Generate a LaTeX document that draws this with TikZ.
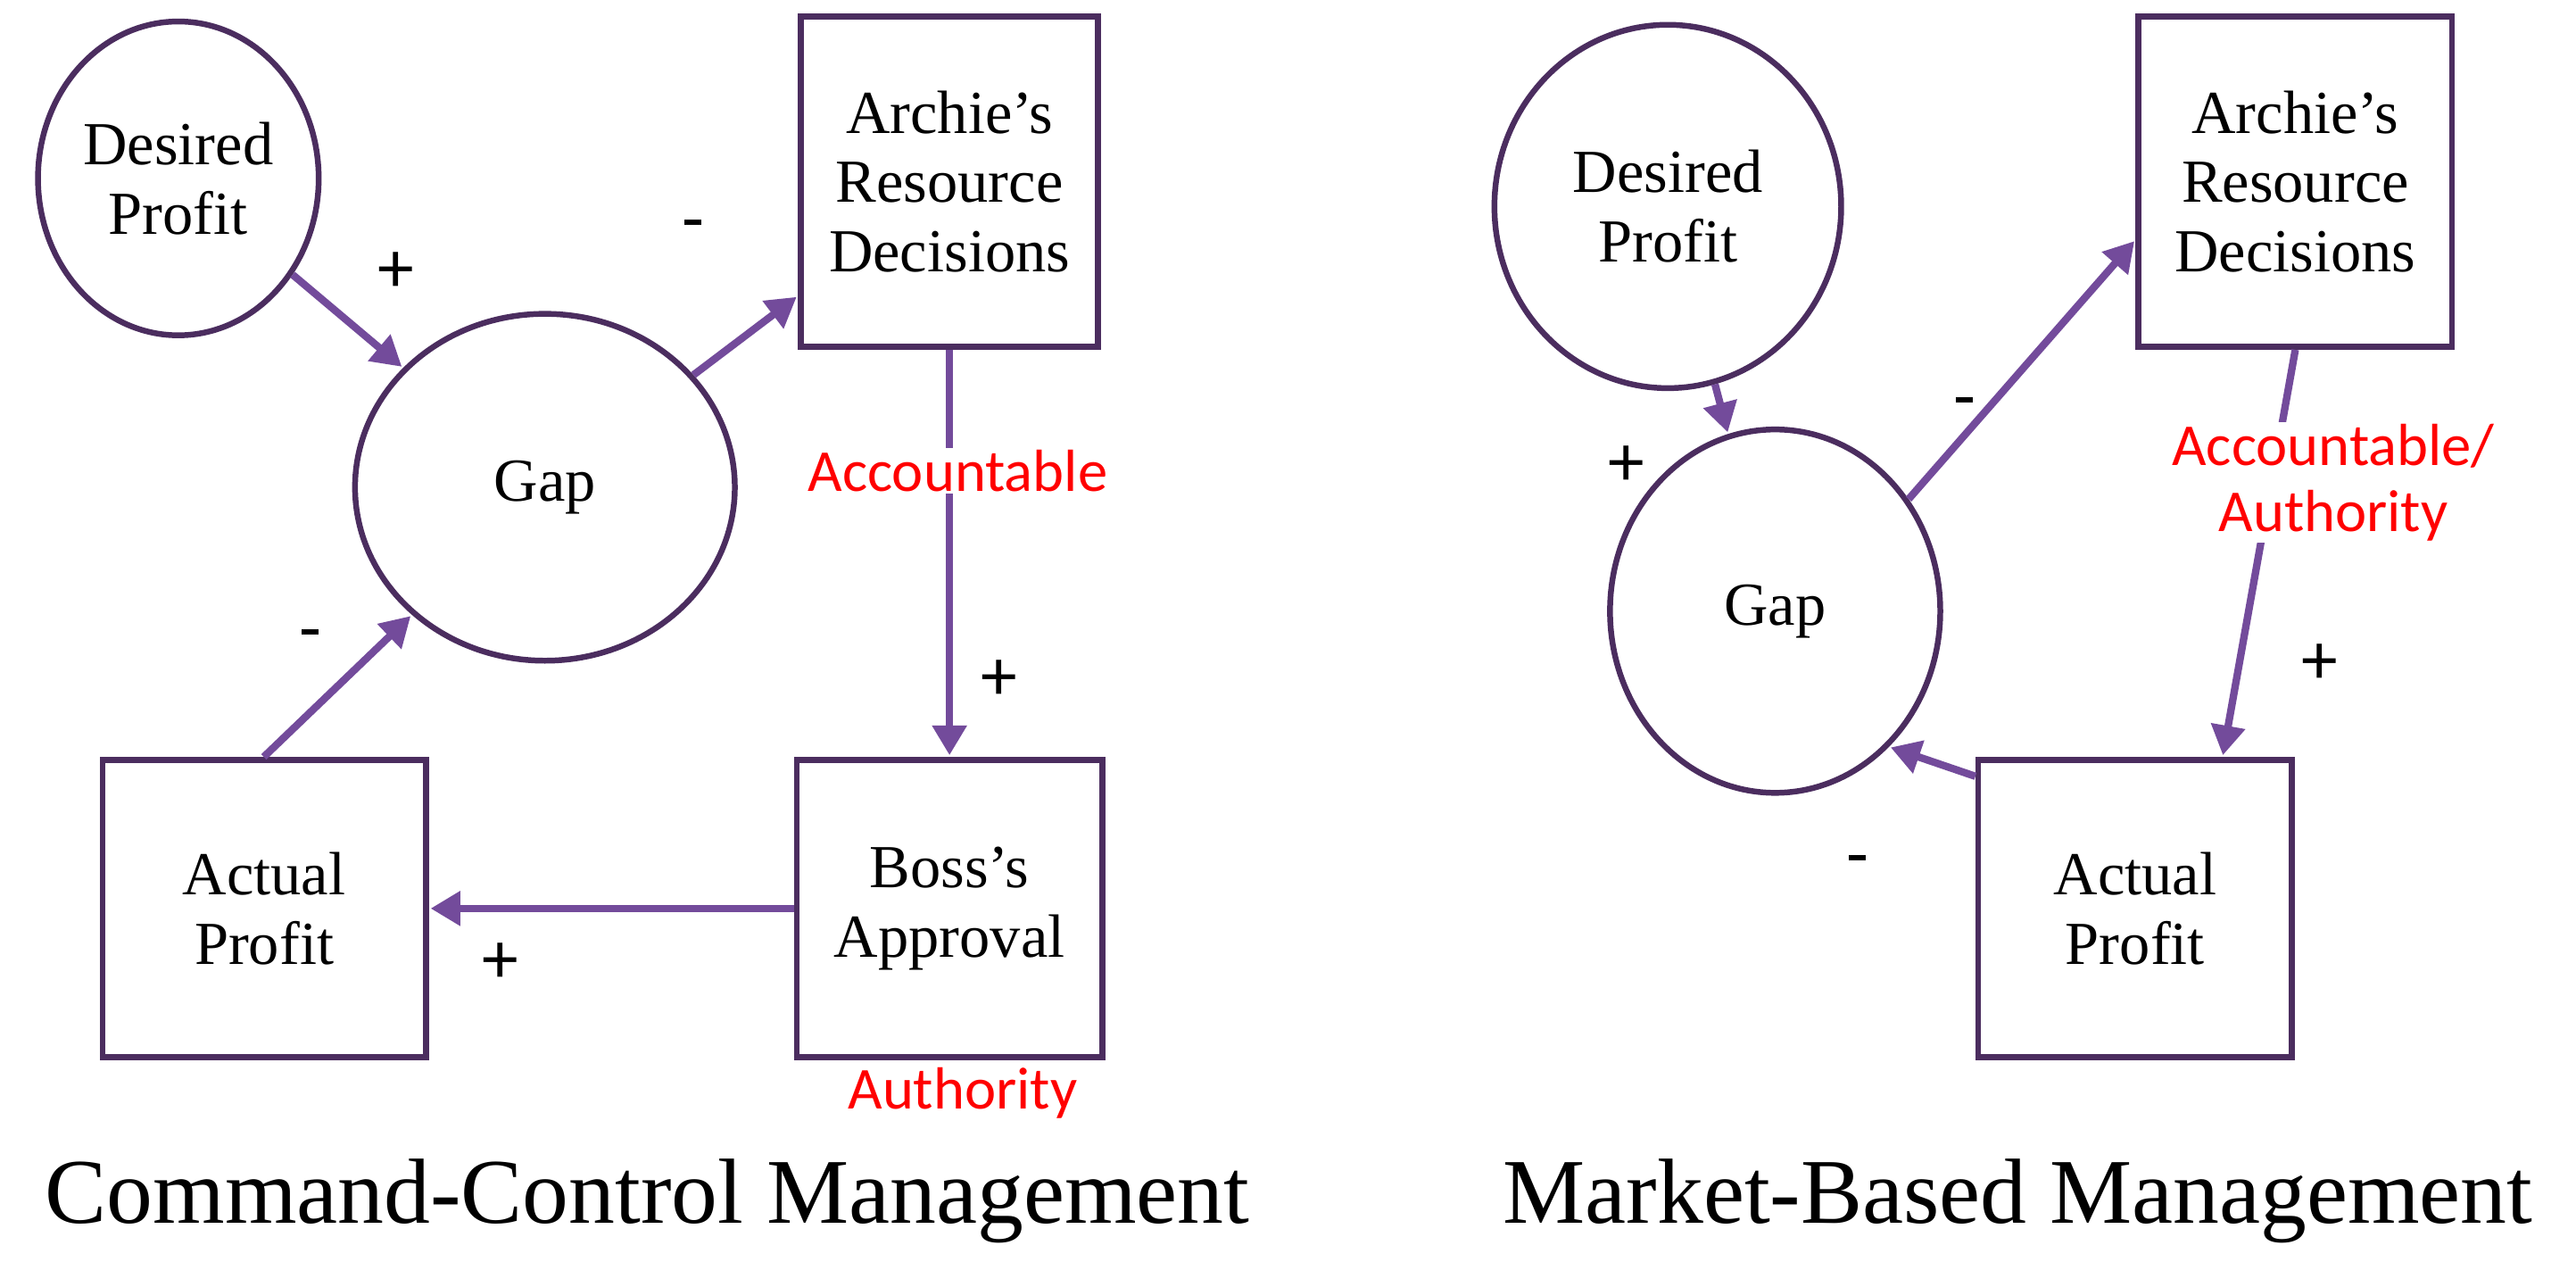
\documentclass[tikz,border=0pt]{standalone}
\usepackage{fontspec}
\setmainfont{Liberation Serif}
\newfontfamily\carl{Carlito}
\usetikzlibrary{shapes.geometric,arrows.meta}
\definecolor{edge}{RGB}{75,45,95}
\definecolor{arr}{RGB}{115,75,155}
\begin{document}
\begin{tikzpicture}[x=1pt,y=-1pt,
  every node/.style={font=\fontsize{37}{42}\selectfont},
  ell/.style={ellipse,draw=edge,line width=3.5pt,align=center,inner sep=0},
  box/.style={draw=edge,line width=3.5pt,align=center,inner sep=0},
  con/.style={draw=arr,line width=4.5pt,-{Triangle[length=18pt,width=20pt]},shorten >=1pt},
  red/.style={text=red,fill=white,inner sep=1pt,font=\carl\fontsize{36}{40}\selectfont,align=center},
  sg/.style={font=\carl\fontsize{44}{48}\selectfont}]
\useasboundingbox (0,0) rectangle (1560,779);
% left
\node[ell,minimum width=170,minimum height=190] (dp) at (108,108) {Desired\\Profit};
\node[ell,minimum width=230,minimum height=210] (gap) at (330,295) {Gap};
\node[box,minimum width=180,minimum height=200] (ar) at (575,110) {Archie's\\Resource\\Decisions};
\node[box,minimum width=196,minimum height=180] (ap) at (160,550) {Actual\\Profit};
\node[box,minimum width=185,minimum height=180] (bo) at (575,550) {Boss's\\Approval};
\draw[con] (dp) -- (gap);
\draw[con] (gap) -- (ar);
\draw[con] (ar) -- (bo);
\draw[con] (bo) -- (ap);
\draw[con] (ap.north east) ++(-100,0) coordinate (s1) (s1) -- (gap);
\node[red] (l1) at (580,285) {Accountable};
\node[red] (l2) at (583,662) {Authority};
\node[sg] (s1) at (240,165) {+};
\node[sg] (s2) at (420,140) {-};
\node[sg] (s3) at (188,388) {-};
\node[sg] (s4) at (605,412) {+};
\node[sg] (s5) at (303,583) {+};
\node[font=\fontsize{56}{60}\selectfont] (t1) at (392,727) {Command-Control Management};
% right
\node[ell,minimum width=210,minimum height=220] (dp2) at (1010,125) {Desired\\Profit};
\node[ell,minimum width=200,minimum height=220] (gap2) at (1075,370) {Gap};
\node[box,minimum width=190,minimum height=200] (ar2) at (1390,110) {Archie's\\Resource\\Decisions};
\node[box,minimum width=190,minimum height=180] (ap2) at (1293,550) {Actual\\Profit};
\draw[con] (dp2) -- (gap2);
\draw[con] (gap2.40) -- (ar2.200);
\draw[con] (ar2.270) -- (ap2.60);
\draw[con] (ap2.west) ++(0,-80) coordinate (c2) (c2) -- (gap2.310);
\node[red] (l3) at (1413,292) {Accountable/\\Authority};
\node[sg] (s6) at (985,282) {+};
\node[sg] (s7) at (1190,248) {-};
\node[sg] (s8) at (1405,402) {+};
\node[sg] (s9) at (1125,525) {-};
\node[font=\fontsize{56}{60}\selectfont] (t2) at (1222,727) {Market-Based Management};
\end{tikzpicture}
\end{document}
